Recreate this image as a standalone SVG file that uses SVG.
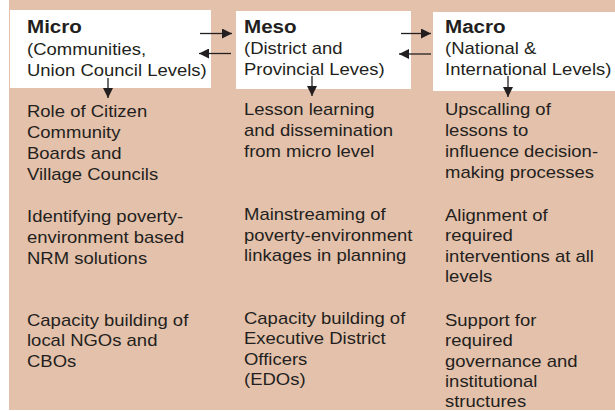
<svg xmlns="http://www.w3.org/2000/svg" width="615" height="411" viewBox="0 0 615 411">
  <style>
    .bg { fill: #E4C1AA; }
    .box { fill: #FFFFFF; }
    .t { font-family: "Liberation Sans", Arial, sans-serif; font-size: 15.8px; fill: #231F20; }
    .h { font-family: "Liberation Sans", Arial, sans-serif; font-size: 17.6px; font-weight: bold; fill: #231F20; }
    .ln { stroke: #231F20; stroke-width: 1.3; fill: none; }
  </style>
  <defs>
    <marker id="ah" viewBox="0 0 10 10" refX="10" refY="5" markerWidth="10" markerHeight="10" markerUnits="userSpaceOnUse" orient="auto">
      <path d="M0,0 L10,5 L0,10 Z" fill="#231F20"/>
    </marker>
  </defs>

  <rect class="bg" x="9" y="0" width="606" height="410"/>

  <!-- Micro column -->
  <g id="micro">
    <rect class="box" x="10" y="10" width="201" height="78"/>
    <text class="h" transform="translate(27 33) scale(1.17 1)">Micro</text>
    <text class="t" transform="translate(27 55) scale(1.17 1)"><tspan x="0" y="0">(Communities,</tspan><tspan x="0" y="21.5">Union Council Levels)</tspan></text>
    <text class="t" transform="translate(27 117) scale(1.17 1)"><tspan x="0" y="0">Role of Citizen</tspan><tspan x="0" y="21">Community</tspan><tspan x="0" y="42">Boards and</tspan><tspan x="0" y="63">Village Councils</tspan></text>
    <text class="t" transform="translate(27 222) scale(1.17 1)"><tspan x="0" y="0">Identifying poverty-</tspan><tspan x="0" y="21">environment based</tspan><tspan x="0" y="42">NRM solutions</tspan></text>
    <text class="t" transform="translate(27 326) scale(1.17 1)"><tspan x="0" y="0">Capacity building of</tspan><tspan x="0" y="20.5">local NGOs and</tspan><tspan x="0" y="41">CBOs</tspan></text>
  </g>

  <!-- Meso column -->
  <g id="meso">
    <rect class="box" x="236" y="11" width="175" height="78"/>
    <text class="h" transform="translate(244 33) scale(1.17 1)">Meso</text>
    <text class="t" transform="translate(244 54) scale(1.17 1)"><tspan x="0" y="0">(District and</tspan><tspan x="0" y="21">Provincial Leves)</tspan></text>
    <text class="t" transform="translate(244 115) scale(1.17 1)"><tspan x="0" y="0">Lesson learning</tspan><tspan x="0" y="21">and dissemination</tspan><tspan x="0" y="42">from micro level</tspan></text>
    <text class="t" transform="translate(244 220) scale(1.17 1)"><tspan x="0" y="0">Mainstreaming of</tspan><tspan x="0" y="20.7">poverty-environment</tspan><tspan x="0" y="41.4">linkages in planning</tspan></text>
    <text class="t" transform="translate(244 324) scale(1.17 1)"><tspan x="0" y="0">Capacity building of</tspan><tspan x="0" y="20.5">Executive District</tspan><tspan x="0" y="41">Officers</tspan><tspan x="0" y="61.5">(EDOs)</tspan></text>
  </g>

  <!-- Macro column -->
  <g id="macro">
    <rect class="box" x="433" y="12" width="182" height="79"/>
    <text class="h" transform="translate(445 33) scale(1.17 1)">Macro</text>
    <text class="t" transform="translate(445 54) scale(1.17 1)"><tspan x="0" y="0">(National &amp;</tspan><tspan x="0" y="21">International Levels)</tspan></text>
    <text class="t" transform="translate(445 115) scale(1.17 1)"><tspan x="0" y="0">Upscalling of</tspan><tspan x="0" y="21">lessons to</tspan><tspan x="0" y="42">influence decision-</tspan><tspan x="0" y="63">making processes</tspan></text>
    <text class="t" transform="translate(445 221) scale(1.17 1)"><tspan x="0" y="0">Alignment of</tspan><tspan x="0" y="20.5">required</tspan><tspan x="0" y="41">interventions at all</tspan><tspan x="0" y="61.5">levels</tspan></text>
    <text class="t" transform="translate(445 326) scale(1.17 1)"><tspan x="0" y="0">Support for</tspan><tspan x="0" y="20.3">required</tspan><tspan x="0" y="40.6">governance and</tspan><tspan x="0" y="60.9">institutional</tspan><tspan x="0" y="81.2">structures</tspan></text>
  </g>

  <!-- Connectors -->
  <g id="connectors">
    <line class="ln" x1="200" y1="33.5" x2="232" y2="33.5" marker-end="url(#ah)"/>
    <line class="ln" x1="231" y1="53.5" x2="199" y2="53.5" marker-end="url(#ah)"/>
    <line class="ln" x1="401" y1="33.5" x2="431" y2="33.5" marker-end="url(#ah)"/>
    <line class="ln" x1="431" y1="54" x2="399" y2="54" marker-end="url(#ah)"/>
    <line class="ln" x1="108" y1="78" x2="108" y2="98" marker-end="url(#ah)"/>
    <line class="ln" x1="312" y1="76" x2="312" y2="96" marker-end="url(#ah)"/>
    <line class="ln" x1="508" y1="76" x2="508" y2="97" marker-end="url(#ah)"/>
  </g>
</svg>
